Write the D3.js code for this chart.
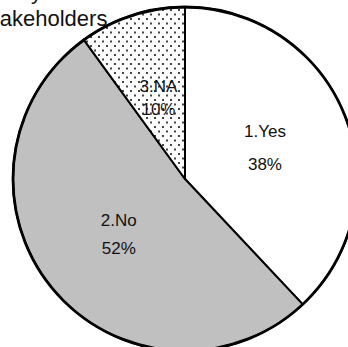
<!DOCTYPE html>
<html>
<head>
<meta charset="utf-8">
<script src="https://cdn.jsdelivr.net/npm/d3@7"></script>
<style>
  html, body { margin: 0; padding: 0; background: #fff; }
  svg { display: block; }
  text { font-family: "Liberation Sans", Arial, sans-serif; fill: #111; }
</style>
</head>
<body>
<svg id="chart" width="348" height="347"></svg>
<script>
// Survey answers
const categories = ["1.Yes", "2.No", "3.NA"];
const shares = [38, 52, 10];
const percentLabels = ["38%", "52%", "10%"];
const titleLines = ["Response by", "Stakeholders"];

const width = 348, height = 347;
const cx = 185, cy = 179, radius = 172;

const svg = d3.select("#chart");

// Dotted fill for the NA slice
const defs = svg.append("defs");
const pat = defs.append("pattern")
  .attr("id", "dots")
  .attr("patternUnits", "userSpaceOnUse")
  .attr("width", 8).attr("height", 9);
pat.append("rect").attr("width", 8).attr("height", 9).attr("fill", "#fff");
pat.append("rect").attr("x", 1).attr("y", 1).attr("width", 2).attr("height", 2).attr("fill", "#444");
pat.append("rect").attr("x", 5).attr("y", 5.5).attr("width", 2).attr("height", 2).attr("fill", "#444");

const fills = d3.scaleOrdinal()
  .domain(categories)
  .range(["#ffffff", "#c0c0c0", "url(#dots)"]);

const pie = d3.pie().sort(null).value(d => d.value).startAngle(0).endAngle(2 * Math.PI);
const arcs = pie(categories.map((c, i) => ({ name: c, value: shares[i], pct: percentLabels[i] })));

const arc = d3.arc().innerRadius(0).outerRadius(radius);
const labelArc = d3.arc().innerRadius(86).outerRadius(86);

const g = svg.append("g").attr("transform", `translate(${cx},${cy})`);

g.selectAll("path.slice")
  .data(arcs)
  .join("path")
  .attr("class", "slice")
  .attr("d", arc)
  .attr("fill", d => fills(d.data.name))
  .attr("stroke", "#000")
  .attr("stroke-width", 2)
  .attr("stroke-linejoin", "round");

// Outer rim drawn a bit heavier
g.append("circle")
  .attr("r", radius)
  .attr("fill", "none")
  .attr("stroke", "#000")
  .attr("stroke-width", 2.8);

// Two-line slice labels; spacing between the lines per slice
const lineGap = [33, 28, 23];
const labels = g.selectAll("text.lbl")
  .data(arcs)
  .join("text")
  .attr("class", "lbl")
  .attr("text-anchor", "middle")
  .attr("font-size", 17);

labels.each(function (d, i) {
  const [x, y] = labelArc.centroid(d);
  const t = d3.select(this);
  t.append("tspan").attr("x", x).attr("y", y - lineGap[i] / 2 + 6).text(d.data.name);
  t.append("tspan").attr("x", x).attr("y", y + lineGap[i] / 2 + 6).text(d.data.pct);
});

// Title, partly outside the frame on the left
svg.append("text").attr("font-size", 22)
  .attr("x", 42).attr("y", -1.5).attr("text-anchor", "end").text(titleLines[0]);
svg.append("text").attr("font-size", 22).attr("x", -21).attr("y", 26).text(titleLines[1]);
</script>
</body>
</html>
